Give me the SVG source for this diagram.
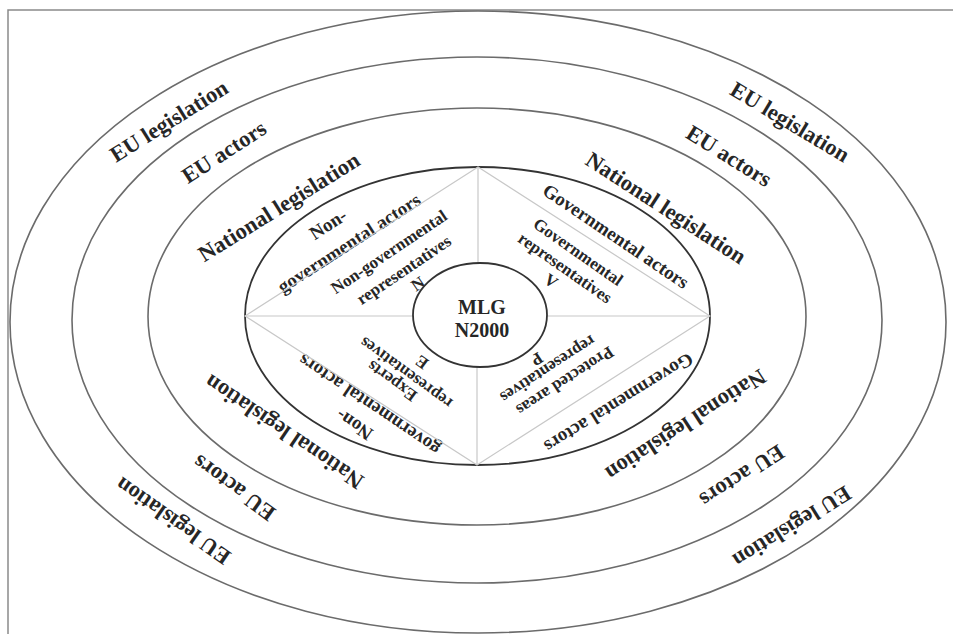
<svg xmlns="http://www.w3.org/2000/svg" width="953" height="634" viewBox="0 0 953 634">
<style>
.ring{fill:none;stroke:#6b6b6b;stroke-width:1.6}
.inner{fill:none;stroke:#333;stroke-width:1.8}
.div{stroke:#c8c8c8;stroke-width:1.2;fill:none}
text{font-family:"Liberation Serif","Times New Roman",serif;font-weight:bold;fill:#262626;text-anchor:middle;dominant-baseline:central}
.o{font-size:22.5px}
.m{font-size:19px}
.s{font-size:17px}
.c{font-size:20px;dominant-baseline:auto}
</style>
<rect x="0" y="0" width="953" height="634" fill="#fff"/>
<path d="M8 640 V10 H960" fill="none" stroke="#8a8a8a" stroke-width="1.5"/>
<g id="ring-eu-legislation">
<ellipse class="ring" cx="478" cy="322" rx="468" ry="311"/>
<text class="o" transform="translate(169,121) rotate(-32)">EU legislation</text>
<text class="o" transform="translate(790,122) rotate(31)">EU legislation</text>
<text class="o" transform="translate(173,521) rotate(215)">EU legislation</text>
<text class="o" transform="translate(792,527) rotate(148)">EU legislation</text>
</g>
<g id="ring-eu-actors">
<ellipse class="ring" cx="477" cy="320" rx="405" ry="263"/>
<text class="o" transform="translate(224,152) rotate(-33)">EU actors</text>
<text class="o" transform="translate(729,156) rotate(32)">EU actors</text>
<text class="o" transform="translate(234,488) rotate(216)">EU actors</text>
<text class="o" transform="translate(742,476) rotate(147)">EU actors</text>
</g>
<g id="ring-national-legislation">
<ellipse class="ring" cx="477" cy="316.5" rx="329" ry="208.5"/>
<text class="o" transform="translate(279,207) rotate(-32)">National legislation</text>
<text class="o" transform="translate(666,208) rotate(33)">National legislation</text>
<text class="o" transform="translate(284,432) rotate(214)">National legislation</text>
<text class="o" transform="translate(686,425) rotate(147)">National legislation</text>
</g>
<g id="actors-ring">
<ellipse class="inner" cx="477.5" cy="316" rx="232.5" ry="149"/>
<text class="m" transform="translate(328,224) rotate(-33)">Non-</text>
<text class="m" transform="translate(349,243) rotate(-33)">governmental actors</text>
<text class="m" transform="translate(616,236) rotate(34)">Governmental actors</text>
<text class="m" transform="translate(354,425) rotate(214)">Non-</text>
<text class="m" transform="translate(369,405) rotate(214)">governmental actors</text>
<text class="m" transform="translate(619,403) rotate(148)">Governmental actors</text>
</g>
<g id="connectors">
<path class="div" d="M478 167 L245 316 L477 465 L710 316 Z"/>
<path class="div" d="M478 167 V264 M245 316 H413 M710 316 H547 M477 465 V367"/>
</g>
<g id="sector-n">
<text class="s" transform="translate(389,252) rotate(-34)">Non-governmental</text>
<text class="s" transform="translate(404,270) rotate(-34)">representatives</text>
<text class="s" transform="translate(418,284) rotate(-34)">N</text>
</g>
<g id="sector-v">
<text class="s" transform="translate(578,252) rotate(35)">Governmental</text>
<text class="s" transform="translate(565,268) rotate(35)">representatives</text>
<text class="s" transform="translate(551,281) rotate(35)">V</text>
</g>
<g id="sector-e">
<text class="s" transform="translate(392,381) rotate(216)">Experts</text>
<text class="s" transform="translate(406,373) rotate(216)">representatives</text>
<text class="s" transform="translate(422,362) rotate(216)">E</text>
</g>
<g id="sector-p">
<text class="s" transform="translate(565,381) rotate(147)">Protected areas</text>
<text class="s" transform="translate(548,369) rotate(147)">representatives</text>
<text class="s" transform="translate(537,359) rotate(147)">P</text>
</g>
<g id="center">
<ellipse class="inner" cx="480" cy="315" rx="67" ry="52"/>
<text class="c" x="482" y="314">MLG</text>
<text class="c" x="482" y="337">N2000</text>
</g>
</svg>
